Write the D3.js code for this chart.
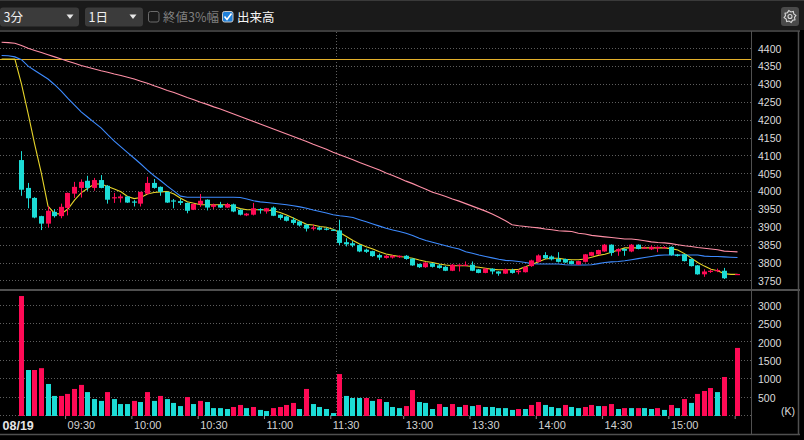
<!DOCTYPE html>
<html><head><meta charset="utf-8">
<script src="https://cdn.jsdelivr.net/npm/d3@7"></script>
<style>html,body{margin:0;padding:0;background:#000;overflow:hidden}</style>
</head><body><svg id="c" width="804" height="440"></svg>
<script>
// ---- data (3-minute bars, 08/19) ----
const openP  = [4087,4009,3981,3930,3909,3942,3930,3953,3993,4009, 4029,4009,4031,4015,3981,3980,3985,3971,3965,3993,
                4023,4012,3998,3974,3972,3967,3948,3963,3976,3956, 3962,3954,3963,3948,3932,3934,3950,3943,3954,3934,
                3929,3920,3915,3906,3895,3898,3895,3892,3890,3857, 3854,3849,3836,3832,3821,3813,3814,3815,3819,3811,
                3796,3787,3798,3792,3788,3777,3791,3792,3794,3781, 3771,3783,3775,3769,3779,3773,3773,3790,3802,3821,
                3817,3810,3810,3804,3794,3802,3819,3823,3831,3850, 3831,3838,3831,3850,3840,3837,3840,3842,3844,3822,
                3823,3810,3792,3767,3776,3777,3777,null,3767];
const highP  = [4112,4023,3983,3931,3957,3950,3965,3996,4026,4033, 4043,4037,4045,4017,3995,3991,3986,3975,3998,4040,
                4034,4013,3998,3978,3978,3968,3966,3992,3977,3965, 3970,3967,3965,3948,3939,3967,3952,3953,3957,3935,
                3930,3926,3916,3907,3906,3901,3898,3893,3920,3868, 3860,3851,3839,3833,3825,3821,3821,3820,3821,3812,
                3797,3801,3799,3796,3790,3796,3795,3803,3803,3782, 3784,3784,3776,3783,3783,3781,3790,3808,3823,3829,
                3820,3829,3811,3806,3805,3824,3830,3836,3852,3851, 3840,3840,3852,3851,3845,3848,3845,3846,3845,3824,
                3824,3811,3793,3781,3781,3783,3785,null,3768];
const lowP   = [3987,3952,3924,3891,3898,3926,3924,3932,3981,3982, 4001,4001,4008,3965,3967,3968,3967,3957,3957,3990,
                4007,3987,3967,3952,3961,3938,3947,3956,3946,3950, 3953,3953,3941,3932,3930,3932,3937,3937,3930,3920,
                3915,3906,3901,3887,3890,3890,3890,3889,3849,3845, 3843,3829,3827,3816,3807,3811,3811,3813,3808,3791,
                3785,3785,3786,3783,3776,3776,3775,3790,3776,3770, 3770,3767,3763,3768,3769,3767,3772,3788,3800,3810,
                3806,3800,3799,3795,3793,3800,3818,3822,3830,3819, 3819,3819,3829,3837,3838,3835,3829,3840,3819,3817,
                3803,3789,3766,3760,3771,3773,3754,null,3766];
const closeP = [4004,3980,3926,3909,3945,3930,3956,3995,4012,4026, 4009,4031,4009,3976,3983,3985,3968,3968,3998,4023,
                4009,3998,3968,3971,3967,3945,3964,3973,3954,3962, 3954,3964,3943,3934,3937,3952,3947,3952,3931,3925,
                3917,3911,3904,3895,3898,3892,3892,3890,3855,3851, 3848,3831,3830,3818,3814,3819,3819,3819,3810,3792,
                3787,3800,3788,3785,3777,3794,3794,3794,3777,3771, 3783,3775,3769,3781,3771,3777,3788,3806,3820,3812,
                3809,3802,3800,3796,3804,3823,3829,3835,3850,3827, 3838,3833,3850,3838,3842,3844,3844,3843,3821,3820,
                3804,3790,3767,3775,3777,3779,3756,null,3768];
// volume in thousands (K); 1 = red bar, 0 = cyan bar
const volumeK = [3260,1250,1250,1300,870,545,545,600,735,845, 650,460,410,650,460,325,325,410,380,650,
                 410,545,460,355,270,515,325,410,380,215, 215,190,245,300,215,245,165,135,215,245,
                 300,355,190,735,325,245,190,80,1140,545, 490,490,490,410,460,380,245,215,270,705,
                 380,355,190,325,245,325,245,300,270,300, 245,245,215,215,165,190,190,300,380,300,
                 245,215,300,245,215,245,300,270,270,325, 190,215,215,215,215,190,215,165,300,215,
                 460,355,600,680,760,650,1060,0,1850];
const volumeUp = [1,0,1,1,0,0,1,1,1,1, 0,0,0,1,0,0,0,1,0,1, 0,1,0,0,0,1,0,1,0,0, 0,0,1,1,0,1,0,0,1,1,
                  1,1,0,1,0,0,0,0,1,0, 0,0,1,0,1,0,0,0,1,1, 0,0,0,1,0,1,0,1,0,1, 0,0,0,0,0,1,0,1,1,0,
                  0,0,1,0,0,1,1,0,1,1, 0,1,0,1,0,0,1,0,1,0, 1,0,1,1,1,0,1,0,1];
// moving averages, bar index -3 .. 108
const maStart = -3;
const maLong = [4417,4416,4414, 4408,4400,4394,4388,4382,4376,4370,4364,4358,4352, 4347,4342,4337,4333,4328,4324,4319,4314,4308,4302,
                4295,4289,4282,4276,4269,4262,4256,4249,4243,4236, 4230,4223,4216,4209,4202,4195,4188,4181,4174,4167,
                4160,4153,4146,4139,4131,4124,4117,4109,4102,4095, 4088,4080,4073,4066,4059,4051,4044,4036,4028,4021,
                4013,4005,3997,3991,3985,3978,3972,3965,3958,3951, 3944,3936,3927,3917,3906,3903,3901,3899,3897,3894,
                3892,3889,3888,3887,3882,3880,3876,3874,3872,3870, 3868,3866,3866,3864,3861,3858,3856,3855,3853,3850,
                3847,3845,3842,3840,3838,3836,3832,3831,3830];
const maMid  = [4380,4379,4376, 4368,4350,4338,4326,4314,4298,4280,4260,4241,4222, 4207,4192,4177,4158,4140,4124,4108,4092,4076,4059,
                4043,4029,4014,4000,3986,3983,3983,3983,3983,3983, 3983,3983,3983,3982,3978,3973,3970,3968,3966,3964,
                3962,3959,3956,3952,3947,3943,3939,3934,3931,3929, 3926,3920,3914,3908,3902,3896,3891,3887,3882,3876,
                3868,3862,3857,3852,3847,3842,3838,3830,3826,3821, 3817,3813,3809,3806,3805,3803,3800,3797,3796,3796,
                3796,3796,3794,3793,3793,3793,3794,3797,3800,3802, 3803,3805,3808,3811,3814,3817,3820,3821,3821,3821,
                3821,3821,3821,3818,3817,3817,3816,3815,3814];
const maShort= [4370,4370,4370, 4300,4217,4130,4050,3958,3937,3936,3950,3975,3995, 4008,4020,4020,4013,4006,3998,3985,3979,3982,3992,
                3996,3998,3999,3992,3980,3970,3966,3962,3962,3962, 3962,3962,3957,3951,3948,3948,3948,3947,3945,3940,
                3933,3925,3916,3907,3905,3901,3899,3893,3884,3873, 3862,3852,3844,3838,3830,3824,3820,3817,3815,3812,
                3807,3803,3800,3796,3793,3791,3791,3791,3789,3787, 3784,3781,3780,3780,3780,3781,3788,3795,3802,3810,
                3812,3812,3809,3808,3808,3810,3815,3820,3823,3829, 3835,3841,3841,3841,3841,3841,3841,3841,3839,3835,
                3825,3813,3800,3790,3781,3777,3769,3767,3767];
const prevClose = 4369;
const priceTicks = [4400,4350,4300,4250,4200,4150,4100,4050,4000,3950,3900,3850,3800,3750];
const volTicks = [500,1000,1500,2000,2500,3000];
const timeTickIdx = [6.5,16.5,26.5,36.5,46.5,57.5,67.5,77.5,87.5,97.5,107.5];
const timeTickLabels = ["09:30","10:00","10:30","11:00","11:30","13:00","13:30","14:00","14:30","15:00",""];
const dateLabel = "08/19";
const sessionBreakIdx = 47.5;

// ---- drawing ----
const UP="#ff0a55", DN="#1cdcd6", GRID="#5e5e5e", FRAME="#505050";
const svg = d3.select("#c");
svg.append("rect").attr("width",804).attr("height",440).attr("fill","#000");

const x  = d3.scaleLinear().domain([0,108]).range([21.5,737.5]);
const yP = d3.scaleLinear().domain([3750,4400]).range([280.4,48.3]);
const yV = d3.scaleLinear().domain([0,3000]).range([416,305.6]);
const PR = 751;

// toolbar
svg.append("rect").attr("x",0).attr("y",0).attr("width",804).attr("height",30).attr("fill","#1a1a1a");
svg.append("line").attr("x1",0).attr("x2",804).attr("y1",0.5).attr("y2",0.5).attr("stroke","#3a3a3a");
const tb = svg.append("g").attr("font-family","'Noto Sans CJK JP','Noto Sans',sans-serif").attr("font-size",12.5);
[[0,79,"3分",66.5],[85,58,"1日",129.5]].forEach(([bx,bw,t,tx])=>{
  tb.append("rect").attr("x",bx).attr("y",7.5).attr("width",bw).attr("height",19).attr("rx",3).attr("fill","#3b3b3b");
  tb.append("text").attr("x",bx+3.5).attr("y",22).attr("fill","#f0f0f0").text(t);
  tb.append("path").attr("d",`M${tx},14.5 L${tx+7},14.5 L${tx+3.5},19 Z`).attr("fill","#e8e8e8");
});
tb.append("rect").attr("x",148.5).attr("y",11.5).attr("width",10.5).attr("height",10.5).attr("rx",2)
  .attr("fill","none").attr("stroke","#6a6a6a");
tb.append("text").attr("x",163).attr("y",22).attr("fill","#7f7f7f").text("終値3%幅");
tb.append("rect").attr("x",222.5).attr("y",11.5).attr("width",10.5).attr("height",10.5).attr("rx",2)
  .attr("fill","#1f7fd8").attr("stroke","#c8c8c8");
tb.append("path").attr("d","M224.5,16.5 L227,19.5 L231.5,13.5").attr("fill","none").attr("stroke","#fff").attr("stroke-width",1.6);
tb.append("text").attr("x",237).attr("y",22).attr("fill","#f4f4f4").text("出来高");
// gear button
svg.append("rect").attr("x",781).attr("y",7).attr("width",18).attr("height",19).attr("rx",3).attr("fill","#4a4a4a");
const gear = d3.range(0,16).map(k=>{const a=k*Math.PI/8 - Math.PI/16; const r=(k%2===0)?6:4.6; return [790+r*Math.cos(a),16.5+r*Math.sin(a)];});
svg.append("path").attr("d",d3.line().curve(d3.curveLinearClosed)(gear)).attr("fill","none").attr("stroke","#d8d8d8").attr("stroke-width",1.1);
svg.append("circle").attr("cx",790).attr("cy",16.5).attr("r",2).attr("fill","none").attr("stroke","#d8d8d8").attr("stroke-width",1.1);

// grids
const grid = svg.append("g").attr("stroke",GRID).attr("stroke-dasharray","1,2").attr("stroke-width",1);
priceTicks.forEach(p=>grid.append("line").attr("x1",0).attr("x2",PR).attr("y1",Math.round(yP(p))+0.5).attr("y2",Math.round(yP(p))+0.5));
[0].concat(volTicks).forEach(v=>grid.append("line").attr("x1",0).attr("x2",PR).attr("y1",Math.round(yV(v))-0.5).attr("y2",Math.round(yV(v))-0.5));
const sbx = Math.round(x(sessionBreakIdx))+0.5;
grid.append("line").attr("x1",sbx).attr("x2",sbx).attr("y1",32).attr("y2",416);

// previous close line
svg.append("line").attr("x1",0).attr("x2",PR).attr("y1",Math.round(yP(prevClose))+0.5).attr("y2",Math.round(yP(prevClose))+0.5)
  .attr("stroke","#e3b02a").attr("stroke-width",1);

// clip for price pane
svg.append("clipPath").attr("id","pc").append("rect").attr("x",0).attr("y",32).attr("width",PR).attr("height",257);
const pp = svg.append("g").attr("clip-path","url(#pc)");

// moving averages
const maLine = d3.line().x((d,i)=>x(i+maStart)).y(d=>yP(d));
[[maLong,"#ff8fa6"],[maMid,"#3d8bff"],[maShort,"#e6d42a"]].forEach(([arr,c])=>{
  pp.append("path").attr("d",maLine(arr)).attr("fill","none").attr("stroke",c).attr("stroke-width",1.1);
});

// candles
const bars = d3.range(openP.length).filter(i=>openP[i]!==null);
const cg = pp.append("g");
bars.forEach(i=>{
  const up = closeP[i] >= openP[i];
  const col = up ? UP : DN;
  const left = Math.round(x(i)-2.5);
  cg.append("rect").attr("x",left+2).attr("width",1)
    .attr("y",yP(highP[i])).attr("height",Math.max(1,yP(lowP[i])-yP(highP[i]))).attr("fill",col);
  const top = yP(Math.max(openP[i],closeP[i])), bot = yP(Math.min(openP[i],closeP[i]));
  cg.append("rect").attr("x",left).attr("width",5).attr("y",top).attr("height",Math.max(1.2,bot-top)).attr("fill",col);
});

// volume bars
const vg = svg.append("g");
volumeK.forEach((v,i)=>{
  if(!v) return;
  const left = Math.round(x(i)-2.5);
  vg.append("rect").attr("x",left).attr("width",5).attr("y",yV(v)).attr("height",yV(0)-yV(v))
    .attr("fill",volumeUp[i]?UP:DN);
});

// frame lines
const fr = svg.append("g").attr("stroke",FRAME);
fr.append("line").attr("x1",0).attr("x2",800).attr("y1",31).attr("y2",31).attr("stroke-width",1.5);
fr.append("line").attr("x1",0).attr("x2",800).attr("y1",290).attr("y2",290).attr("stroke-width",2);
fr.append("line").attr("x1",0).attr("x2",800).attr("y1",434.5).attr("y2",434.5).attr("stroke-width",1.5);
fr.append("line").attr("x1",751.5).attr("x2",751.5).attr("y1",31).attr("y2",435).attr("stroke-width",1);
fr.append("line").attr("x1",798.5).attr("x2",798.5).attr("y1",31).attr("y2",435).attr("stroke-width",1.5);

// axes
const axFont = "'Liberation Sans',Arial,sans-serif";
const pAx = svg.append("g").attr("transform","translate(752,0)")
  .call(d3.axisRight(yP).tickValues(priceTicks).tickSize(0).tickPadding(6).tickFormat(d3.format("d")));
const vAx = svg.append("g").attr("transform","translate(752,0)")
  .call(d3.axisRight(yV).tickValues(volTicks).tickSize(0).tickPadding(6).tickFormat(d3.format("d")));
[pAx,vAx].forEach(a=>{
  a.select(".domain").remove();
  a.selectAll("text").attr("font-family",axFont).attr("font-size",10.5).attr("fill","#dcdcdc").attr("dy","0.36em");
});
svg.append("text").attr("x",781).attr("y",415).attr("font-family",axFont).attr("font-size",10.5).attr("fill","#dcdcdc").text("(K)");

const xAx = svg.append("g").attr("transform","translate(0,416)")
  .call(d3.axisBottom(x).tickValues(timeTickIdx).tickSize(3).tickFormat((d,i)=>timeTickLabels[i]));
xAx.select(".domain").remove();
xAx.selectAll("line").attr("stroke","#8a8a8a").attr("transform","translate(0.5,0)");
xAx.selectAll("text").attr("font-family",axFont).attr("font-size",11).attr("fill","#d2d2d2")
  .attr("text-anchor","start").attr("dx","2.5").attr("y",5).attr("dy","0.71em");
svg.append("text").attr("x",2.5).attr("y",430).attr("font-family",axFont).attr("font-size",12.5)
  .attr("font-weight","bold").attr("fill","#e6e6e6").text(dateLabel);
</script>
</body></html>
